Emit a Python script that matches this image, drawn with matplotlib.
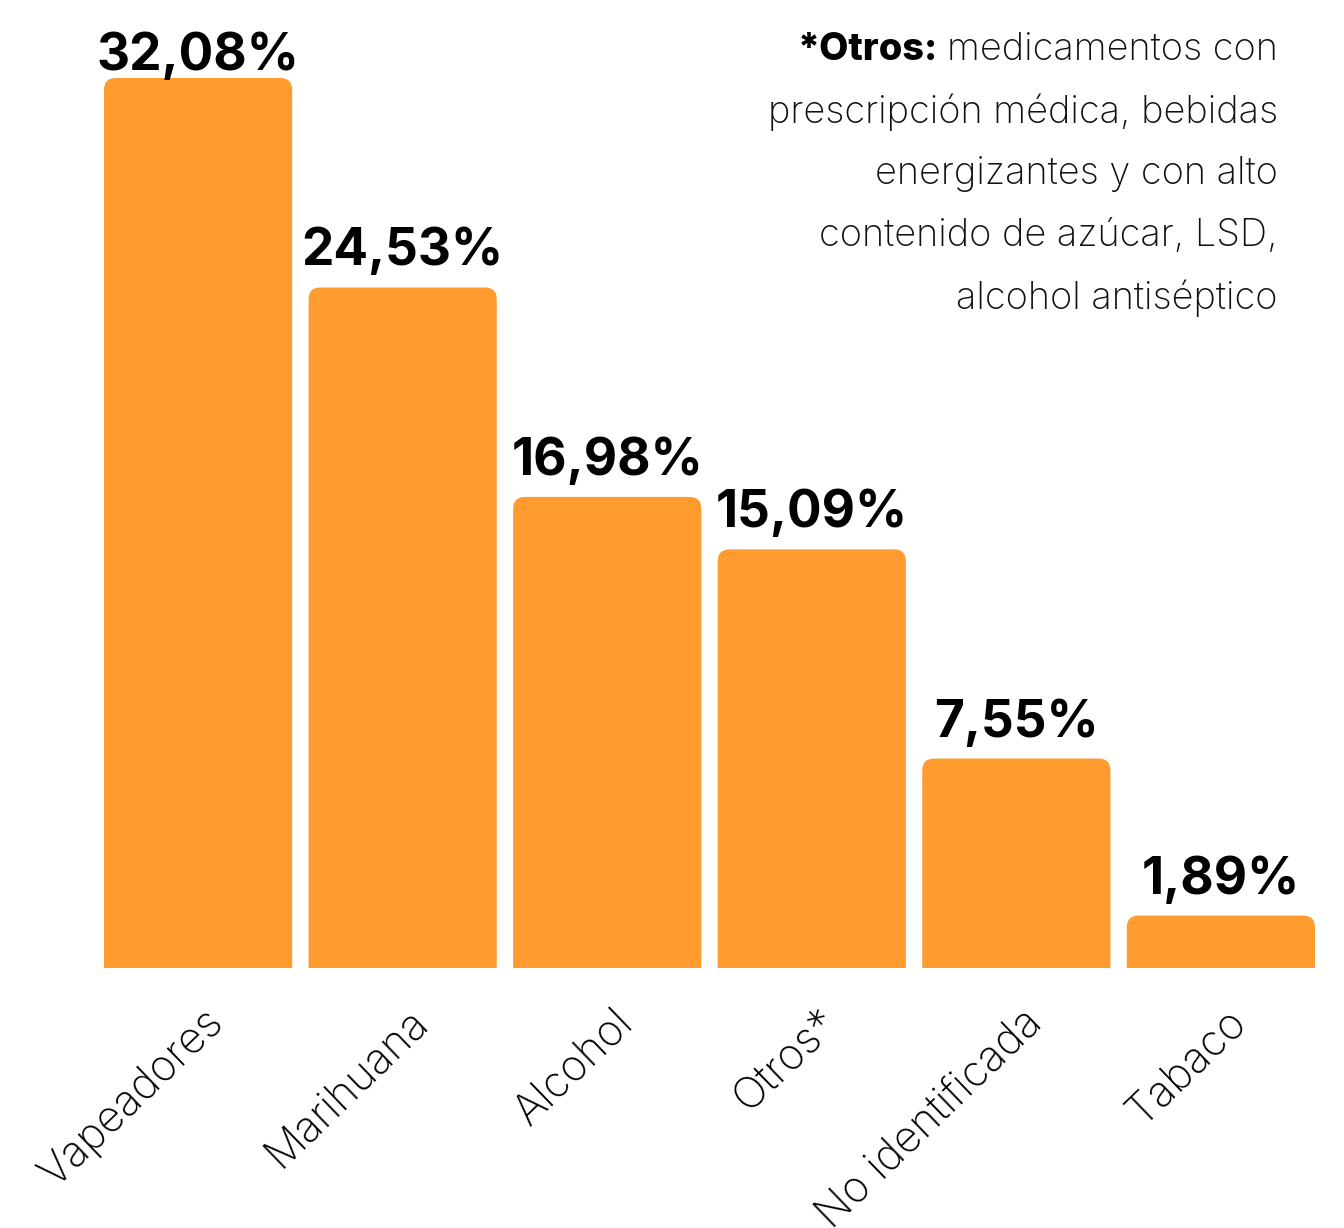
import matplotlib
matplotlib.use("Agg")
import matplotlib.pyplot as plt
from matplotlib.patches import PathPatch
from matplotlib.path import Path
import matplotlib.transforms as mtransforms

categories = ["Vapeadores", "Marihuana", "Alcohol", "Otros*", "No identificada", "Tabaco"]
values = [32.08, 24.53, 16.98, 15.09, 7.55, 1.89]
value_labels = ["32,08%", "24,53%", "16,98%", "15,09%", "7,55%", "1,89%"]

W, H = 1344, 1228
fig = plt.figure(figsize=(W / 100, H / 100), dpi=100)
left, right, bottom, top = 104, 1315, 1228 - 968, 1228
ax = fig.add_axes([left / W, bottom / H, (right - left) / W, (top - bottom) / H])

color = "#FF9B2F"
bw = 0.92
x = list(range(len(values)))
ax.set_xlim(-bw / 2, len(values) - 1 + bw / 2)
px_per_unit_y = 890 / 32.08
ax.set_ylim(0, 968 / px_per_unit_y)
px_per_unit_x = (right - left) / (len(values) - 1 + bw)

r_px = 12
rx = r_px / px_per_unit_x
ry = r_px / px_per_unit_y


def rounded_top_bar(xc, h):
    x0, x1 = xc - bw / 2, xc + bw / 2
    verts = [
        (x0, 0), (x0, h - ry), (x0, h), (x0 + rx, h),
        (x1 - rx, h), (x1, h), (x1, h - ry), (x1, 0), (x0, 0),
    ]
    codes = [Path.MOVETO, Path.LINETO, Path.CURVE3, Path.CURVE3,
             Path.LINETO, Path.CURVE3, Path.CURVE3, Path.LINETO, Path.CLOSEPOLY]
    return PathPatch(Path(verts, codes), facecolor=color, edgecolor="none", linewidth=0)


for xi, v in zip(x, values):
    ax.add_patch(rounded_top_bar(xi, v))

label_off = 22 / px_per_unit_y
label_max = (968 - 70) / px_per_unit_y
for xi, v, lab in zip(x, values, value_labels):
    ax.text(xi, min(v + label_off, label_max), lab, ha="center", va="baseline",
            fontsize=37, fontweight="bold", family=["Inter", "DejaVu Sans"], color="black")

ax.set_xticks(x)
ax.set_xticklabels(categories, rotation=44, ha="right", rotation_mode="anchor",
                   fontsize=31, fontweight="light", family=["Inter", "DejaVu Sans"])
ax.tick_params(axis="x", length=0, pad=24)
offset = mtransforms.ScaledTranslation(0.05, 0, fig.dpi_scale_trans)
for lbl in ax.get_xticklabels():
    lbl.set_transform(lbl.get_transform() + offset)
ax.set_yticks([])
for s in ax.spines.values():
    s.set_visible(False)

note_lines = [
    "medicamentos con",
    "prescripción médica, bebidas",
    "energizantes y con alto",
    "contenido de azúcar, LSD,",
    "alcohol antiséptico",
]
x_right = 1278 / W
y0 = 1228 - 50
step = 62
fs_note = 27.3
for i, line in enumerate(note_lines):
    ypos = (y0 - i * step) / H
    t = fig.text(x_right, ypos, line, ha="right", va="center", fontsize=fs_note,
                 fontweight="light", family=["Inter", "DejaVu Sans"], color="#111111")
    if i == 0:
        fig.canvas.draw()
        bb = t.get_window_extent()
        fig.text(bb.x0 / W - 0.007, ypos, "*Otros:", ha="right", va="center", fontsize=fs_note,
                 fontweight="heavy", family=["Inter", "DejaVu Sans"], color="black")

fig.savefig("out.png", dpi=100)
